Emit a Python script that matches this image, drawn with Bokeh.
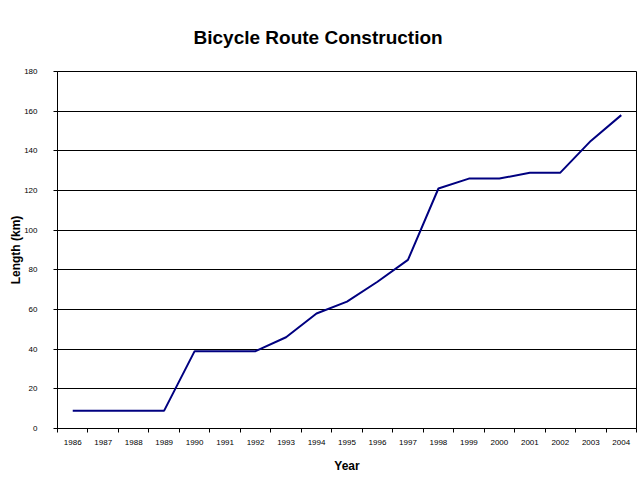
from bokeh.plotting import figure
from bokeh.models import FixedTicker, Range1d
from bokeh.embed import file_html
from bokeh.resources import INLINE

years = [1986, 1987, 1988, 1989, 1990, 1991, 1992, 1993, 1994, 1995,
         1996, 1997, 1998, 1999, 2000, 2001, 2002, 2003, 2004]
length_km = [9, 9, 9, 9, 39, 39, 39, 46, 58, 64,
             74, 85, 121, 126, 126, 129, 129, 145, 158]
y_ticks = [0, 20, 40, 60, 80, 100, 120, 140, 160, 180]

FONT = "Liberation Sans"

p = figure(width=642, height=483, output_backend="svg", toolbar_location=None,
           x_range=Range1d(years[0] - 0.5, years[-1] + 0.5),
           y_range=Range1d(0, 180),
           title="Bicycle Route Construction",
           min_border_left=57, min_border_right=6, min_border_top=71, min_border_bottom=55)

p.title.align = "left"
p.title.offset = 136
p.title.vertical_align = "top"
p.title.text_font = FONT
p.title.text_font_size = "19px"
p.title.text_font_style = "bold"
p.title.text_color = "black"
p.title.standoff = 44

p.line(years, length_km, line_color="#000080", line_width=2)

p.outline_line_color = "black"
p.outline_line_width = 1
p.background_fill_color = "white"
p.border_fill_color = "white"

# grids
p.xgrid.visible = False
p.ygrid.ticker = FixedTicker(ticks=y_ticks)
p.ygrid.grid_line_color = "black"
p.ygrid.grid_line_width = 1

# x axis: labels at category centers, tick marks at boundaries
bounds = [y - 0.5 for y in years] + [years[-1] + 0.5]
p.xaxis.ticker = FixedTicker(ticks=years, minor_ticks=bounds)
p.xaxis.major_tick_line_color = None
p.xaxis.major_tick_in = 0
p.xaxis.major_tick_out = 4
p.xaxis.minor_tick_line_color = "black"
p.xaxis.minor_tick_in = 0
p.xaxis.minor_tick_out = 4
p.xaxis.axis_label = "Year"

p.yaxis.ticker = FixedTicker(ticks=y_ticks)
p.yaxis.major_tick_in = 0
p.yaxis.major_tick_out = 4
p.yaxis.minor_tick_line_color = None
p.yaxis.axis_label = "Length (km)"

for ax in (p.xaxis[0], p.yaxis[0]):
    ax.axis_line_color = "black"
    ax.major_label_text_font = FONT
    ax.major_label_text_font_size = "8px"
    ax.major_label_text_color = "black"
    ax.axis_label_text_font = FONT
    ax.axis_label_text_font_size = "12px"
    ax.axis_label_text_font_style = "bold"
    ax.axis_label_text_color = "black"

p.xaxis.major_label_standoff = 7
p.xaxis.axis_label_standoff = 11
p.yaxis.major_label_standoff = 16
p.yaxis.axis_label_standoff = -2

open("out.html", "w").write(file_html(p, INLINE))
